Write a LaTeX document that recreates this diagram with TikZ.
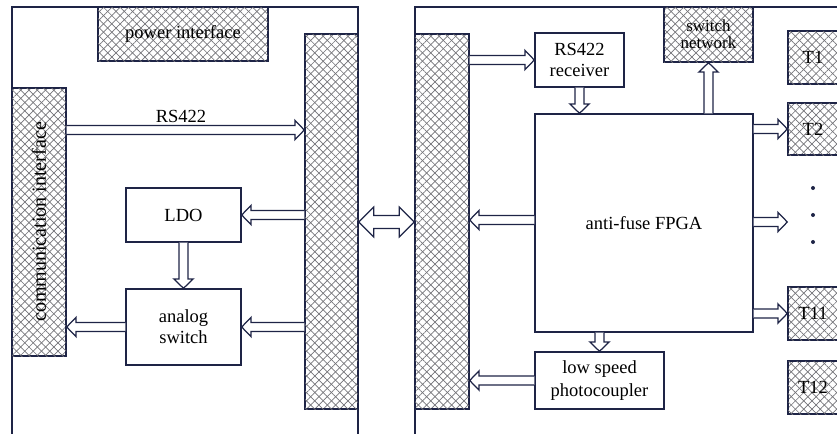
\documentclass[tikz,border=0pt]{standalone}
\usepackage{fontspec}
\setmainfont{Liberation Serif}
\usetikzlibrary{calc, patterns.meta}
\definecolor{lineNavy}{RGB}{30, 36, 70}
\definecolor{hatchGray}{RGB}{115, 115, 120}

% hollow block arrow from #1 (tail) to #2 (tip)
\newcommand{\fatarrow}[2]{%
  \coordinate (neck) at ($(#2)!6pt!(#1)$);
  \draw[flow] ($(#1)!2.9pt!90:(#2)$) -- ($(neck)!2.9pt!90:(#2)$)
    -- ($(neck)!6.2pt!90:(#2)$) -- (#2) -- ($(neck)!6.2pt!-90:(#2)$)
    -- ($(neck)!2.9pt!-90:(#2)$) -- ($(#1)!2.9pt!-90:(#2)$);
}

\begin{document}
\begin{tikzpicture}[
    x=0.0228cm, y=-0.0228cm,
    board/.style={
        draw=lineNavy,
        line width=0.9pt
    },
    box/.style 2 args={
        minimum width=#1*0.0228cm,
        minimum height=#2*0.0228cm
    },
    block/.style={
        rectangle,
        draw=lineNavy,
        line width=0.9pt,
        inner sep=0pt,
        align=center,
        font=\fontsize{12}{13.5}\selectfont
    },
    hatched/.style={
        block,
        pattern={Lines[angle=45, distance=3.8pt, line width=0.45pt]},
        pattern color=hatchGray,
        postaction={pattern={Lines[angle=-45, distance=3.8pt, line width=0.45pt]}, pattern color=hatchGray}
    },
    flow/.style={
        draw=lineNavy,
        line width=0.8pt,
        fill=white,
        line join=miter
    }
]
\useasboundingbox (0,0) rectangle (837,434);
\clip (0,0) rectangle (837,434);

% Boards
\draw[board] (12,480) -- (12,7) -- (358,7) -- (358,480);
\draw[board] (415,480) -- (415,7) -- (900,7) -- (900,480);

% Left board
\node[hatched, box={170}{54}] (power) at (183,34) {power interface};
\node[hatched, box={54}{268}] (comm) at (39,222) {};
\node[rotate=90, font=\fontsize{13}{14}\selectfont] (commtext) at (comm.center) {communication interface};
\node[hatched, box={53}{375}] (lbus) at (331.5,221.5) {};
\node[block, box={115}{54}] (ldo) at (183.5,215) {LDO};
\node[block, box={115}{76}] (aswitch) at (183.5,327) {analog\\switch};

% Right board
\node[hatched, box={54}{375}] (rbus) at (442,221.5) {};
\node[block, box={89}{54}] (rxbox) at (579.5,60) {RS422\\receiver};
\node[hatched, box={89}{55}, font=\fontsize{11}{11}\selectfont] (swnet) at (708.5,34.5) {switch\\network};
\node[block, box={218}{218}] (fpga) at (644,223) {anti-fuse FPGA};
\node[block, box={129}{57}, font=\fontsize{12}{15}\selectfont] (photo) at (599.5,380.5) {low speed\\photocoupler};
\node[hatched, box={50}{53}] (t1) at (813,57.5) {T1};
\node[hatched, box={50}{52}] (t2) at (813,129) {T2};
\node[hatched, box={50}{53}] (t11) at (813,313.5) {T11};
\node[hatched, box={50}{53}] (t12) at (813,387.5) {T12};
\foreach \y in {188,215,242}
    \fill[lineNavy] (813,\y) circle (1.3pt);

% Left board connections
\fatarrow{comm.east |- 0,130}{lbus.west |- 0,130}
\node[font=\fontsize{12}{13}\selectfont] (rslabel) at (181,116) {RS422};
\fatarrow{lbus.west |- ldo.east}{ldo.east}
\fatarrow{ldo.south}{aswitch.north}
\fatarrow{lbus.west |- aswitch.east}{aswitch.east}
\fatarrow{aswitch.west}{comm.east |- aswitch.west}

% Link between boards
\coordinate (linkL) at (lbus.east |- 0,222);
\coordinate (linkR) at (rbus.west |- 0,222);
\coordinate (neckL) at ($(linkL)!9.7pt!(linkR)$);
\coordinate (neckR) at ($(linkR)!9.7pt!(linkL)$);
\draw[flow] (linkL) -- ($(neckL)!9.7pt!90:(linkR)$) -- ($(neckL)!4.2pt!90:(linkR)$)
    -- ($(neckR)!4.2pt!-90:(linkL)$) -- ($(neckR)!9.7pt!-90:(linkL)$) -- (linkR)
    -- ($(neckR)!9.7pt!90:(linkL)$) -- ($(neckR)!4.2pt!90:(linkL)$)
    -- ($(neckL)!4.2pt!-90:(linkR)$) -- ($(neckL)!9.7pt!-90:(linkR)$) -- cycle;

% Right board connections
\fatarrow{rbus.east |- rxbox.west}{rxbox.west}
\fatarrow{rxbox.south}{rxbox.south |- fpga.north}
\fatarrow{swnet.south |- fpga.north}{swnet.south}
\fatarrow{fpga.west |- 0,220}{rbus.east |- 0,220}
\fatarrow{photo.north |- fpga.south}{photo.north}
\fatarrow{photo.west}{rbus.east |- photo.west}
\fatarrow{fpga.east |- t2.west}{t2.west}
\fatarrow{fpga.east |- 0,222}{t2.west |- 0,222}
\fatarrow{fpga.east |- t11.west}{t11.west}

\end{tikzpicture}
\end{document}
